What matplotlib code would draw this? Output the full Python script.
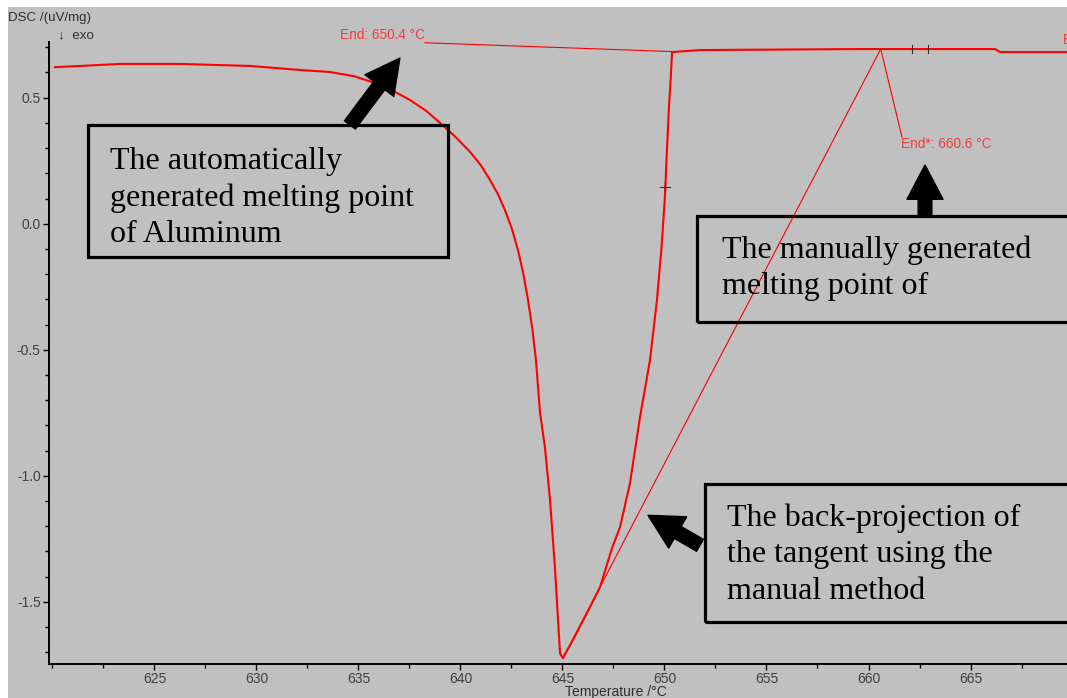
"""DSC melting curve of aluminium with automatic and manual onset-end evaluation."""

import matplotlib.pyplot as plt
from matplotlib.patches import Rectangle
from matplotlib.ticker import MultipleLocator

plt.rcParams["font.family"] = ["Liberation Sans", "DejaVu Sans"]

# Measured DSC signal (temperature in degC, signal in uV/mg)
temp = [620.12, 623.31, 626.25, 629.68, 632.13, 633.60, 634.80, 635.81, 636.70,
        637.52, 638.30, 639.00, 639.75, 640.47, 641.00, 641.45, 641.85, 642.18,
        642.52, 642.82, 643.08, 643.31, 643.52, 643.70, 643.90, 644.14, 644.39,
        644.63, 644.88, 645.02, 645.51, 646.35, 646.84, 647.43, 647.82, 648.31,
        648.80, 649.29, 649.63, 649.85, 650.02, 650.12, 650.22, 650.32, 650.37,
        651.74, 659.58, 666.20, 666.45, 669.73]
dsc = [0.621, 0.634, 0.634, 0.626, 0.610, 0.602, 0.585, 0.558, 0.527,
       0.491, 0.449, 0.400, 0.345, 0.285, 0.232, 0.173, 0.115, 0.054,
       -0.020, -0.105, -0.198, -0.303, -0.415, -0.541, -0.751, -0.887, -1.097,
       -1.364, -1.705, -1.724, -1.652, -1.521, -1.442, -1.287, -1.204, -1.029,
       -0.767, -0.541, -0.303, -0.100, 0.105, 0.292, 0.463, 0.598, 0.681,
       0.689, 0.693, 0.693, 0.681, 0.681]

# Evaluations
end_auto = 650.4
end_auto_y = 0.683
peak_t, peak_y = 645.02, -1.724
end_manual = 660.6
end_manual_y = 0.693
cursor_marks = [(650.02, 0.146), (662.13, 0.693), (662.91, 0.693)]

x_ticks = [625, 630, 635, 640, 645, 650, 655, 660, 665]
y_ticks = [0.5, 0.0, -0.5, -1.0, -1.5]

notes = [
    "The automatically\ngenerated melting point\nof Aluminum",
    "The manually generated\nmelting point of",
    "The back-projection of\nthe tangent using the\nmanual method",
]

BG = "#c0c0c0"
RED = "#ff0000"
LABEL_RED = "#f03c3c"
INK = "#303030"

fig = plt.figure(figsize=(10.67, 6.98), dpi=100, facecolor="white")
fig.patches.append(Rectangle((8 / 1067, 0), 1, 691 / 698, transform=fig.transFigure,
                             facecolor=BG, edgecolor="none", zorder=-10))
ax = fig.add_axes([49 / 1067, 34 / 698, 1 - 49 / 1067, 622 / 698])
ax.set_facecolor(BG)

ax.plot(temp, dsc, color=RED, lw=1.5, zorder=3)

# manual tangent back-projected to the peak
ax.plot([peak_t, end_manual], [peak_y, end_manual_y], color=RED, lw=0.8, zorder=3)

# labels with leader lines
ax.plot([638.26, end_auto], [0.718, end_auto_y], color=RED, lw=0.8, clip_on=False)
ax.text(634.09, 0.749, f"End: {end_auto} °C", color=LABEL_RED, fontsize=9.8,
        ha="left", va="center", clip_on=False)
ax.plot([end_manual, 661.64], [end_manual_y, 0.344], color=RED, lw=0.8)
ax.text(661.59, 0.318, f"End*: {end_manual} °C", color=LABEL_RED, fontsize=9.8,
        ha="left", va="center")
for mx, my in cursor_marks:
    ax.plot([mx, mx], [my - 0.016, my + 0.016], color=INK, lw=0.8, zorder=4)
    if mx < 651:
        ax.plot([mx - 0.25, mx + 0.25], [my, my], color=INK, lw=0.8, zorder=4)
fig.text(1063 / 1067, 1 - 40 / 698, "E", color=LABEL_RED, fontsize=9.8,
         ha="left", va="center")

ax.set_xlim(619.83, 669.73)
ax.set_ylim(-1.747, 0.721)
ax.set_xticks(x_ticks)
ax.xaxis.set_minor_locator(MultipleLocator(2.5))
ax.set_yticks(y_ticks)
ax.set_yticklabels([f"{v:.1f}" for v in y_ticks])
ax.yaxis.set_minor_locator(MultipleLocator(0.1))
ax.tick_params(which="major", length=4, width=1, color="black",
               labelsize=10, labelcolor="#404040", pad=2)
ax.tick_params(which="minor", length=3, width=1, color="black")
for side in ("top", "right"):
    ax.spines[side].set_visible(False)
for side in ("left", "bottom"):
    ax.spines[side].set_linewidth(1.4)

fig.text(565 / 1067, 1 - 692 / 698, "Temperature /°C", fontsize=10,
         color=INK, ha="left", va="center")
fig.text(8 / 1067, 1 - 18 / 698, "DSC /(uV/mg)", fontsize=9.6,
         color=INK, ha="left", va="center")
fig.text(58 / 1067, 1 - 35 / 698, "↓  exo", fontsize=9.6,
         color=INK, ha="left", va="center")

# annotation boxes
boxes = [
    ((621.74, -0.132), 639.39 - 621.74, 0.392 + 0.132, (622.82, 0.102)),
    ((651.59, -0.390), 20.0, 0.031 + 0.390, (652.82, -0.176)),
    ((651.99, -1.581), 20.0, 1.581 - 1.033, (653.06, -1.313)),
]
for (xy, w, h, txy), note in zip(boxes, notes):
    ax.add_patch(Rectangle(xy, w, h, facecolor="none", edgecolor="black",
                           lw=2.3, zorder=5, clip_on=False))
    ax.text(txy[0], txy[1], note, family="Liberation Serif", fontsize=23,
            ha="left", va="center", linespacing=1.34, zorder=6)

arrow_style = dict(arrowstyle="simple,head_width=1.0,head_length=0.95,tail_width=0.38",
                   mutation_scale=26, color="black", shrinkA=0, shrinkB=0)
ax.annotate("", xy=(637.03, 0.657), xytext=(634.58, 0.392), arrowprops=arrow_style, zorder=6)
ax.annotate("", xy=(662.77, 0.233), xytext=(662.77, 0.031), arrowprops=arrow_style, zorder=6)
ax.annotate("", xy=(649.19, -1.157), xytext=(651.74, -1.276), arrowprops=arrow_style, zorder=6)

fig.savefig("out.png", dpi=100, facecolor=fig.get_facecolor())
